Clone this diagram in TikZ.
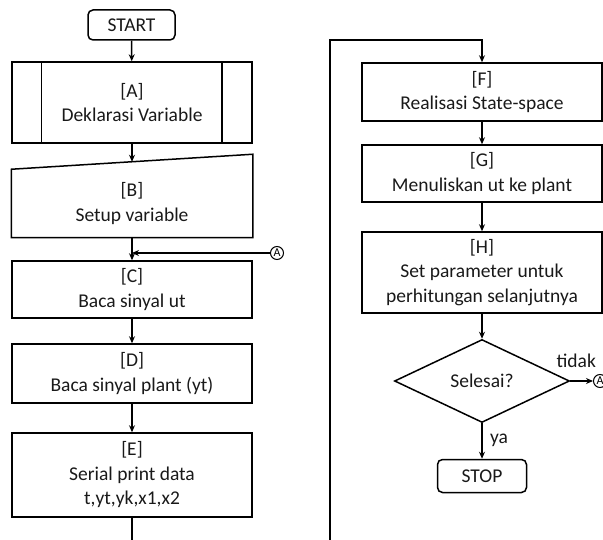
\documentclass[tikz,border=0pt]{standalone}
\usepackage{fontspec}
\setmainfont{Carlito}
\usetikzlibrary{positioning, calc, shapes.geometric, arrows.meta}

\tikzset{
  proses/.style={draw, rectangle, minimum width=240pt, align=center, inner sep=0pt, text=black!90},
  terminal/.style={draw, rounded corners=5pt, minimum width=87pt, minimum height=30pt, inner sep=0pt, text=black!90},
  keputusan/.style={draw, diamond, minimum width=175pt, minimum height=83pt, inner sep=0pt, text=black!90},
  konektor/.style={draw, circle, minimum size=13pt, inner sep=0pt, line width=1pt, font=\fontsize{12}{13}\selectfont},
}

\begin{document}
\begin{tikzpicture}[x=1pt, y=-1pt, >={Stealth[length=7pt,width=6pt]}, font=\fontsize{19.5}{24.5}\selectfont, line width=1.5pt]
\useasboundingbox (0,0) rectangle (603,540);

% --- Kolom kiri ---
\node[terminal] (start) at (131.5,25) {START};
\node[proses, minimum height=81pt] (a) at (132,102.5) {[A]\\Deklarasi Variable};
\draw ($(a.north west)+(30,0)$) -- ($(a.south west)+(30,0)$);
\draw ($(a.north east)+(-31,0)$) -- ($(a.south east)+(-31,0)$);
\node[proses, draw=none, minimum height=67pt] (b) at (132,203.5) {[B]\\Setup variable};
\draw (b.south west) -- (b.south east) -- ($(b.north east)+(0,-15)$) -- (b.north west) -- cycle;
\coordinate (bAtas) at ($(b.north)+(0,-7.5)$);
\node[proses, minimum height=57pt] (c) at (132,289.5) {[C]\\Baca sinyal ut};
\node[proses, minimum height=59pt] (d) at (132,373.5) {[D]\\Baca sinyal plant (yt)};
\node[proses, minimum height=84pt] (e) at (132,475) {[E]\\Serial print data\\t,yt,yk,x1,x2};
\node[konektor] (conA1) at (277,253) {A};
\coordinate (gabung) at (b.south |- conA1);

% --- Kolom kanan ---
\node[proses, minimum height=58pt] (f) at (482,92) {[F]\\Realisasi State-space};
\node[proses, minimum height=57pt] (g) at (482,173.5) {[G]\\Menuliskan ut ke plant};
\node[proses, minimum height=81pt] (h) at (482,272.5) {[H]\\Set parameter untuk\\perhitungan selanjutnya};
\node[keputusan] (sel) at (482,381) {Selesai?};
\node[terminal, minimum width=89pt, minimum height=33pt] (stop) at (482,476) {STOP};
\node[konektor] (conA2) at (600,381) {A};
\node[anchor=base, text=black!90] (tidak) at ($(sel.east)+(6,-14)$) {tidak};
\node[anchor=base west, text=black!90] (ya) at ($(sel.south)+(4,20)$) {ya};

% --- Garis sambungan ---
\coordinate (bawahKiri) at (132,540);
\coordinate (bawahKanan) at (330,540);
\coordinate (atasKiri) at (330,40);
\draw[->] (start) -- (a);
\draw[->] (a.south) -- (bAtas);
\draw[->] (b.south) -- (c.north);
\draw[->] (conA1) -- (gabung);
\draw[->] (c) -- (d);
\draw[->] (d) -- (e);
\draw (e.south) -- (bawahKiri);
\draw[->] (bawahKanan) -- (atasKiri) -| (f.north);
\draw[->] (f) -- (g);
\draw[->] (g) -- (h);
\draw[->] (h) -- (sel);
\draw[->] (sel.east) -- (conA2);
\draw[->] (sel.south) -- (stop.north);

\end{tikzpicture}
\end{document}
